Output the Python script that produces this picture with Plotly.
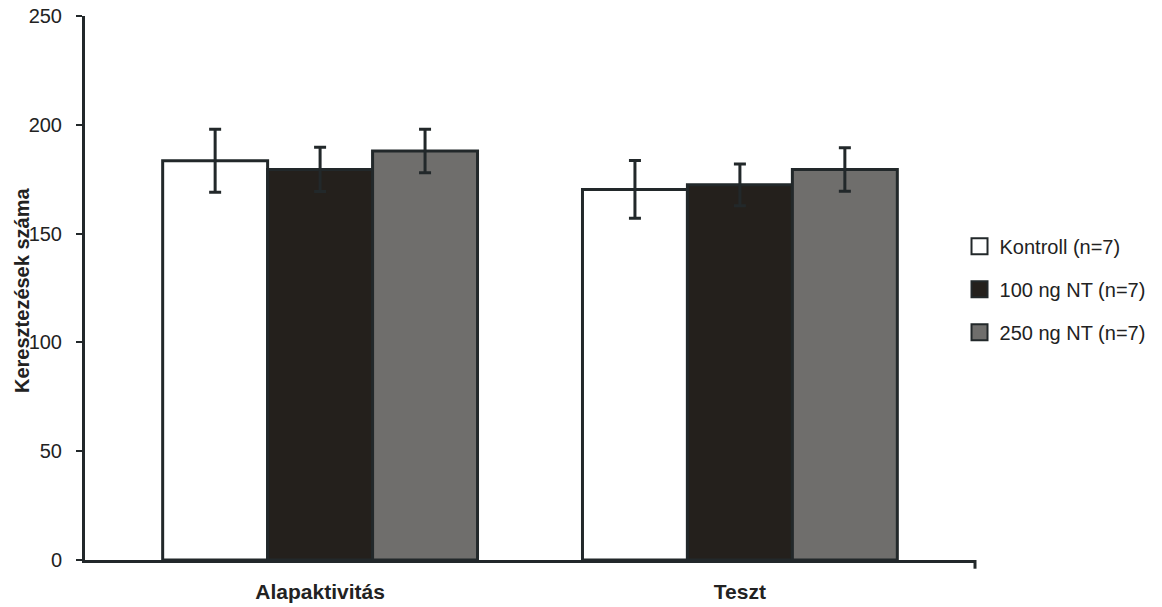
import plotly.graph_objects as go

categories = ["Alapaktivitás", "Teszt"]
series_names = ["Kontroll (n=7)", "100 ng NT (n=7)", "250 ng NT (n=7)"]
kontroll = [183.5, 170.3]
kontroll_err = [14.5, 13.3]
nt100 = [179.5, 172.4]
nt100_err = [10.2, 9.6]
nt250 = [188.0, 179.5]
nt250_err = [10.0, 10.0]
y_ticks = [0, 50, 100, 150, 200, 250]
y_title = "Keresztezések száma"

values = [kontroll, nt100, nt250]
errors = [kontroll_err, nt100_err, nt250_err]
fills = ["#ffffff", "#24201c", "#6f6e6c"]
edge = "#22282a"
text_col = "#222222"
font_fam = "Liberation Sans, Arial, sans-serif"

xpos = list(range(len(categories)))

fig = go.Figure()
for name, vals, errs, fill in zip(series_names, values, errors, fills):
    fig.add_trace(go.Bar(
        x=xpos, y=vals, name=name, showlegend=False,
        marker=dict(color=fill, line=dict(color=edge, width=3)),
        error_y=dict(type="data", array=errs, visible=True,
                     color=edge, thickness=3, width=6),
    ))

for i, (name, fill) in enumerate(zip(series_names, fills)):
    fig.add_trace(go.Scatter(
        x=[None], y=[None], mode="markers", name=name,
        legendgroup=f"g{i}",
        marker=dict(symbol="square", size=16, color=fill,
                    line=dict(color=edge, width=2)),
    ))

fig.update_layout(
    width=1162, height=607,
    margin=dict(l=85, r=187, t=16, b=47, autoexpand=False),
    paper_bgcolor="white", plot_bgcolor="white",
    barmode="group", bargap=0.25, bargroupgap=0,
    font=dict(family=font_fam, color=text_col, size=20),
    showlegend=True,
    legend=dict(x=0.9826, y=0.6126, xanchor="left", yanchor="top",
                font=dict(size=20, color=text_col),
                traceorder="grouped", tracegroupgap=14,
                itemwidth=30,
                bgcolor="rgba(0,0,0,0)"),
)

fig.update_xaxes(
    range=[-0.56, 1.56], tickmode="array", tickvals=xpos, ticktext=categories,
    ticks="", showgrid=False, zeroline=False, automargin=False,
    showline=True, linecolor=edge, linewidth=3,
    tickfont=dict(size=21, family=font_fam, color=text_col, weight="bold"),
    ticklabelstandoff=11,
)
fig.update_yaxes(
    range=[0, 250], tickmode="array", tickvals=y_ticks,
    ticks="outside", ticklen=6, tickwidth=2, tickcolor=edge,
    showgrid=False, zeroline=False, automargin=False,
    showline=True, linecolor=edge, linewidth=3,
    tickfont=dict(size=20, family=font_fam, color=text_col),
    ticklabelstandoff=10,
)

fig.add_annotation(
    text=f"<b>{y_title}</b>", xref="paper", yref="paper",
    x=0, y=0.5, xanchor="center", yanchor="middle", xshift=-63, yshift=-3,
    textangle=-90, showarrow=False,
    font=dict(size=20, family=font_fam, color=text_col),
)

fig.add_shape(type="line", xref="paper", yref="paper",
              x0=1, x1=1, y0=0, y1=-0.016,
              line=dict(color=edge, width=3))

fig.write_html("out.html")
